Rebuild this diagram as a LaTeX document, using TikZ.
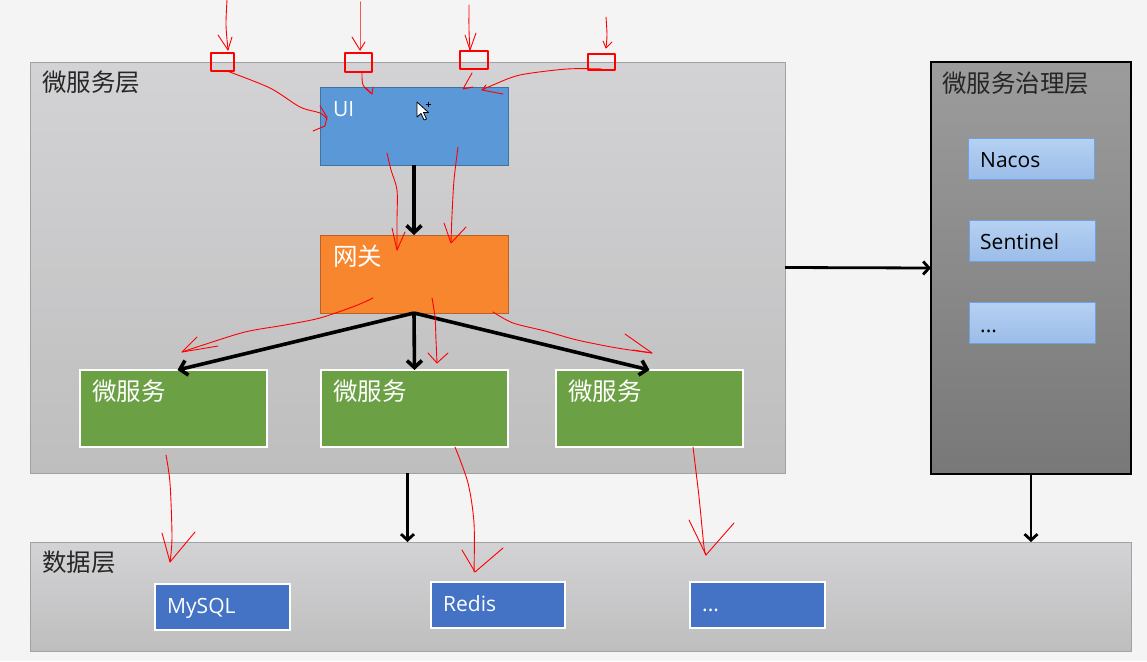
\documentclass[tikz,border=0pt]{standalone}
\usepackage{fontspec}
\setmainfont{Open Sans}
\newfontfamily\cjk{Noto Sans CJK SC}
\usetikzlibrary{arrows.meta}
\definecolor{paper}{HTML}{F4F4F5}
\definecolor{layertop}{HTML}{D3D3D5}
\definecolor{layerbot}{HTML}{BEBEBF}
\definecolor{layerline}{HTML}{A2A2A4}
\definecolor{govtop}{HTML}{9C9C9C}
\definecolor{govbot}{HTML}{787878}
\definecolor{navytop}{HTML}{B6D1F2}
\definecolor{navybot}{HTML}{9BBDE9}
\definecolor{navyline}{HTML}{6FA2DE}
\definecolor{uiblue}{HTML}{5A98D7}
\definecolor{uiline}{HTML}{42719E}
\definecolor{gworange}{HTML}{F7862E}
\definecolor{gwline}{HTML}{B8622A}
\definecolor{msgreen}{HTML}{6BA044}
\definecolor{dbblue}{HTML}{4472C4}
\definecolor{titlegray}{HTML}{262626}
\newcommand\cnfont{\cjk\fontsize{24.5}{28}\selectfont}
\newcommand\enfont{\fontsize{21}{25}\selectfont}
\tikzset{%
  >={Straight Barb[length=7pt,width=15pt]},
  % Specifications for style of nodes:
         base/.style = {rectangle, anchor=north west, inner sep=0pt, outer sep=0pt},
        layer/.style = {base, draw=layerline, line width=1pt,
                        top color=layertop, bottom color=layerbot},
     govlayer/.style = {base, draw=black, line width=1.3pt,
                        top color=govtop, bottom color=govbot},
       govbox/.style = {base, draw=navyline, line width=1pt,
                        top color=navytop, bottom color=navybot,
                        minimum width=126pt, minimum height=41pt},
        uibox/.style = {base, draw=uiline, line width=1pt, fill=uiblue,
                        minimum width=188pt, minimum height=78pt},
   gatewaybox/.style = {base, draw=gwline, line width=1pt, fill=gworange,
                        minimum width=188pt, minimum height=78pt},
        msbox/.style = {base, draw=white, line width=1.5pt, fill=msgreen,
                        minimum width=187pt, minimum height=77pt},
       dbbox/.style = {base, draw=white, line width=1.5pt, fill=dbblue,
                        minimum width=135pt, minimum height=46pt},
     boxlabel/.style = {anchor=base west, xshift=12pt, yshift=-29pt, inner sep=0pt},
   layertitle/.style = {boxlabel, font=\cnfont, text=titlegray},
      cntitle/.style = {boxlabel, font=\cnfont, text=white},
      entitle/.style = {boxlabel, font=\enfont, text=white},
     govtitle/.style = {boxlabel, font=\enfont, text=black},
        flow/.style = {->, line width=3.6pt},
    layerflow/.style = {->, line width=2.8pt,
                        >={Straight Barb[length=6pt,width=13pt]}},
     scribble/.style = {draw=red, line width=0.9pt, line cap=round, line join=round},
}

\begin{document}
\begin{tikzpicture}[x=1pt, y=-1pt]
  \useasboundingbox (0,0) rectangle (1147,661);
  \fill[paper] (0,0) rectangle (1147,661);

  % Layers
  \node (mslayer) [layer, minimum width=755pt, minimum height=411pt,
    label={[layertitle]north west:微服务层}] at (30,62) {};
  \node (gov) [govlayer, minimum width=200pt, minimum height=412pt,
    label={[layertitle, xshift=-1pt, yshift=-1pt, text=black!85]north west:微服务治理层}] at (931,62) {};
  \node (data) [layer, minimum width=1101pt, minimum height=109pt,
    label={[layertitle]north west:数据层}] at (30,542) {};

  % Specification of nodes (position, etc.)
  \node (ui)      [uibox, label={[entitle, xshift=1pt]north west:UI}] at (320,87) {};
  \node (gateway) [gatewaybox, label={[cntitle, xshift=1pt, yshift=-1pt]north west:网关}] at (320,235) {};
  \node (msA)     [msbox, label={[cntitle, yshift=-1pt]north west:微服务}] at (80,370) {};
  \node (msB)     [msbox, label={[cntitle, yshift=-1pt]north west:微服务}] at (321,370) {};
  \node (msC)     [msbox, label={[cntitle, yshift=-1pt]north west:微服务}] at (556,370) {};

  \node (nacos)    [govbox, label={[govtitle]north west:Nacos}] at (968,138) {};
  \node (sentinel) [govbox, label={[govtitle, xshift=-1pt]north west:Sentinel}] at (969,220) {};
  \node (govmore)  [govbox, label={[govtitle, xshift=-1pt, yshift=-1pt]north west:...}] at (969,302) {};

  \node (mysql)  [dbbox, label={[entitle]north west:MySQL}] at (155,584) {};
  \node (redis)  [dbbox, minimum width=134pt, label={[entitle]north west:Redis}] at (431,582) {};
  \node (dbmore) [dbbox, label={[entitle]north west:...}] at (690,582) {};

  \draw[flow] (ui) -- (gateway);
  \draw[flow] (gateway.south) -- ([xshift=4pt]msA.north);
  \draw[flow] (gateway.south) -- (msB.north);
  \draw[flow] (gateway.south) -- (msC.north);
  \draw[layerflow] (mslayer.east) -- (gov.west);
  \draw[layerflow] (mslayer.south) -- (mslayer.south |- data.north);
  \draw[layerflow] (gov.south) -- (gov.south |- data.north);

  % red pen notes
  \draw[scribble, line width=1.2pt] (211,53) rectangle (234,71);
  \draw[scribble, line width=1.2pt] (345,53) rectangle (372,72);
  \draw[scribble, line width=1.2pt] (460,51) rectangle (488,69);
  \draw[scribble, line width=1.2pt] (588,54) rectangle (615,70);
  \draw[scribble] plot[smooth] coordinates {(227,0) (226,25) (228,50)};
  \draw[scribble] (218,35) -- (228,50) -- (232,37);
  \draw[scribble] plot[smooth] coordinates {(360,2) (360,30) (360,50)};
  \draw[scribble] (352,37) -- (360,50) -- (365,42);
  \draw[scribble] plot[smooth] coordinates {(469,5) (469,30) (470,50)};
  \draw[scribble] (465,35) -- (470,50) -- (476,33);
  \draw[scribble] plot[smooth] coordinates {(606,17) (607,35) (606,48)};
  \draw[scribble] (603,41) -- (606,48) -- (612,42);
  \draw[scribble] plot[smooth] coordinates {(227,71) (270,88) (300,107) (320,113) (327,119)};
  \draw[scribble] (320,106) -- (327,117) -- (325,126) -- (313,131);
  \draw[scribble] plot[smooth] coordinates {(362,72) (363,85) (372,94)};
  \draw[scribble] (373,87) -- (372,94) -- (366,88);
  \draw[scribble] (472,73) -- (463,89) -- (473,87);
  \draw[scribble] plot[smooth] coordinates {(602,69) (567,69) (520,75) (493,85) (482,90)};
  \draw[scribble] (486,85) -- (482,90) -- (503,94);
  \draw[scribble] plot[smooth] coordinates {(387,153) (391,170) (397,190) (397,220) (397,250)};
  \draw[scribble] (392,228) -- (397,250) -- (405,232);
  \draw[scribble] plot[smooth] coordinates {(458,147) (454,180) (452,215) (451,242)};
  \draw[scribble] (444,223) -- (451,243) -- (466,227);
  \draw[scribble] plot[smooth] coordinates {(373,298) (355,306) (320,318) (285,325) (245,332) (200,346) (182,352)};
  \draw[scribble] (197,337) -- (182,352) -- (218,346);
  \draw[scribble] plot[smooth] coordinates {(432,298) (435,317) (436,340) (437,363)};
  \draw[scribble] (428,353) -- (437,363) -- (448,353);
  \draw[scribble] plot[smooth] coordinates {(493,312) (513,323) (545,331) (577,340) (617,348) (652,353)};
  \draw[scribble] (625,334) -- (652,353) -- (633,350);
  \draw[scribble] plot[smooth] coordinates {(166,455) (170,483) (172,537) (170,562)};
  \draw[scribble] (162,533) -- (170,562) -- (195,532);
  \draw[scribble] plot[smooth] coordinates {(455,447) (468,483) (474,523) (474,572)};
  \draw[scribble] (462,550) -- (475,572) -- (503,548);
  \draw[scribble] plot[smooth] coordinates {(693,447) (699,497) (704,547) (706,555)};
  \draw[scribble] (689,520) -- (706,555) -- (734,523);

  % mouse pointer
  \draw[fill=white, line width=0.8pt, line join=round] (417,102) -- (417,117) -- (421,113.5)
    -- (424,120) -- (426.5,119) -- (423.5,112.5) -- (428.5,112.5) -- cycle;
  \draw[line width=0.8pt] (425.5,104) -- (430.5,104) (428,101.5) -- (428,106.5);
\end{tikzpicture}
\end{document}
